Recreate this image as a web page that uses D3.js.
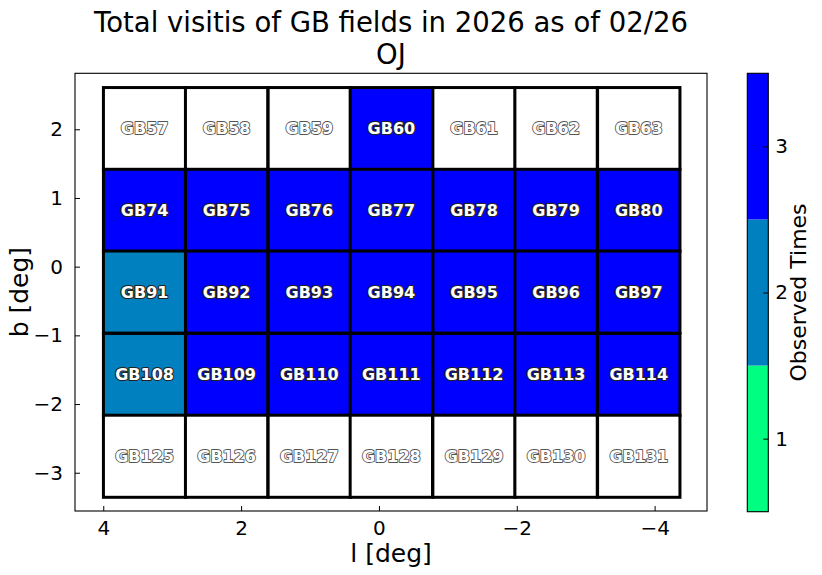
<!DOCTYPE html>
<html>
<head>
<meta charset="utf-8">
<script src="https://cdn.jsdelivr.net/npm/d3@7"></script>
<style>
  html, body { margin: 0; padding: 0; background: #fff; }
  svg text { font-family: "DejaVu Sans", sans-serif; }
</style>
</head>
<body>
<svg id="chart" width="822" height="575"></svg>
<script>
// ---- data ----
const titleLines = ["Total visitis of GB fields in 2026 as of 02/26", "OJ"];
const lCenters = [3.40, 2.21, 1.01, -0.18, -1.38, -2.57, -3.77];   // galactic l of columns (deg)
const bCenters = [2.01, 0.82, -0.37, -1.57, -2.76];                // galactic b of rows (deg)
const rowStartField = [57, 74, 91, 108, 125];
const visits = [
  [0, 0, 0, 3, 0, 0, 0],
  [3, 3, 3, 3, 3, 3, 3],
  [2, 3, 3, 3, 3, 3, 3],
  [2, 3, 3, 3, 3, 3, 3],
  [0, 0, 0, 0, 0, 0, 0]
];
const xTicks = [4, 2, 0, -2, -4];
const yTicks = [2, 1, 0, -1, -2, -3];
const cbLevels = [1, 2, 3];
const cbColors = ["#00ff80", "#0080bf", "#0000ff"];
const cellSize = 1.195;

// ---- layout ----
const svg = d3.select("#chart");
const ax = {left: 75, right: 707, top: 73.3, bottom: 511};
const x = d3.scaleLinear().domain([4.41, -4.76]).range([ax.left, ax.right]);
const y = d3.scaleLinear().domain([-3.557, 2.815]).range([ax.bottom, ax.top]);
const color = d3.scaleOrdinal().domain(cbLevels).range(cbColors);

// title
svg.selectAll("text.title").data(titleLines).join("text")
  .attr("class", "title")
  .attr("x", (ax.left + ax.right) / 2)
  .attr("y", (d, i) => 32 + i * 32)
  .attr("text-anchor", "middle")
  .attr("font-size", 27.5)
  .text(d => d);

// cells
const cells = [];
visits.forEach((row, r) => row.forEach((v, c) => {
  cells.push({l: lCenters[c], b: bCenters[r], v: v, name: "GB" + (rowStartField[r] + c)});
}));

const g = svg.append("g");
g.selectAll("rect.cell").data(cells).join("rect")
  .attr("class", "cell")
  .attr("x", d => x(d.l + cellSize / 2))
  .attr("y", d => y(d.b + cellSize / 2))
  .attr("width", d => x(d.l - cellSize / 2) - x(d.l + cellSize / 2))
  .attr("height", d => y(d.b - cellSize / 2) - y(d.b + cellSize / 2))
  .attr("fill", d => d.v > 0 ? color(d.v) : "#ffffff")
  .attr("stroke", "#000")
  .attr("stroke-width", 3);

g.selectAll("text.lbl").data(cells).join("text")
  .attr("class", "lbl")
  .attr("x", d => x(d.l))
  .attr("y", d => y(d.b))
  .attr("dy", "0.34em")
  .attr("text-anchor", "middle")
  .attr("font-size", 16)
  .attr("font-weight", "bold")
  .attr("fill", "#fff")
  .attr("stroke", d => d.v > 0 ? "#222" : "#555")
  .attr("stroke-width", d => d.v > 0 ? 2.2 : 1.8)
  .attr("paint-order", "stroke")
  .attr("stroke-linejoin", "round")
  .text(d => d.name);

// axes frame
svg.append("rect")
  .attr("x", ax.left).attr("y", ax.top)
  .attr("width", ax.right - ax.left).attr("height", ax.bottom - ax.top)
  .attr("fill", "none").attr("stroke", "#000").attr("stroke-width", 1.1);

// x axis (ticks inward)
const xAxis = svg.append("g").attr("transform", `translate(0,${ax.bottom})`)
  .call(d3.axisBottom(x).tickValues(xTicks).tickSizeInner(-5).tickSizeOuter(0)
        .tickPadding(10).tickFormat(d => d < 0 ? "\u2212" + Math.abs(d) : d));
xAxis.select(".domain").remove();
xAxis.selectAll("text").attr("font-size", 20).attr("fill", "#000")
  .attr("font-family", "DejaVu Sans");
xAxis.selectAll("line").attr("stroke", "#000").attr("stroke-width", 1);

const yAxis = svg.append("g").attr("transform", `translate(${ax.left},0)`)
  .call(d3.axisLeft(y).tickValues(yTicks).tickSizeInner(-5).tickSizeOuter(0)
        .tickPadding(12).tickFormat(d => d < 0 ? "\u2212" + Math.abs(d) : d));
yAxis.select(".domain").remove();
yAxis.selectAll("text").attr("font-size", 20).attr("fill", "#000")
  .attr("font-family", "DejaVu Sans");
yAxis.selectAll("line").attr("stroke", "#000").attr("stroke-width", 1);

// axis labels
svg.append("text")
  .attr("x", (ax.left + ax.right) / 2).attr("y", 562)
  .attr("text-anchor", "middle").attr("font-size", 25)
  .text("l [deg]");
svg.append("text")
  .attr("transform", `translate(28,${(ax.top + ax.bottom) / 2}) rotate(-90)`)
  .attr("text-anchor", "middle").attr("font-size", 25)
  .text("b [deg]");

// colorbar
const cb = {left: 747.3, right: 768.3, top: 73.3, bottom: 511.7};
const cy = d3.scaleLinear().domain([0.5, 3.5]).range([cb.bottom, cb.top]);
svg.selectAll("rect.cb").data(cbLevels).join("rect")
  .attr("class", "cb")
  .attr("x", cb.left)
  .attr("y", d => cy(d + 0.5))
  .attr("width", cb.right - cb.left)
  .attr("height", d => cy(d - 0.5) - cy(d + 0.5))
  .attr("fill", d => color(d));
svg.append("rect")
  .attr("x", cb.left).attr("y", cb.top)
  .attr("width", cb.right - cb.left).attr("height", cb.bottom - cb.top)
  .attr("fill", "none").attr("stroke", "#000").attr("stroke-width", 1.1);
const cbAxis = svg.append("g").attr("transform", `translate(${cb.right},0)`)
  .call(d3.axisRight(cy).tickValues(cbLevels).tickSizeInner(-5).tickSizeOuter(0)
        .tickPadding(7).tickFormat(d3.format("d")));
cbAxis.select(".domain").remove();
cbAxis.selectAll("text").attr("font-size", 20).attr("fill", "#000")
  .attr("font-family", "DejaVu Sans");
cbAxis.selectAll("line").attr("stroke", "#000").attr("stroke-width", 1);
svg.append("text")
  .attr("transform", `translate(806,${(cb.top + cb.bottom) / 2}) rotate(-90)`)
  .attr("text-anchor", "middle").attr("font-size", 22)
  .text("Observed Times");
</script>
</body>
</html>
